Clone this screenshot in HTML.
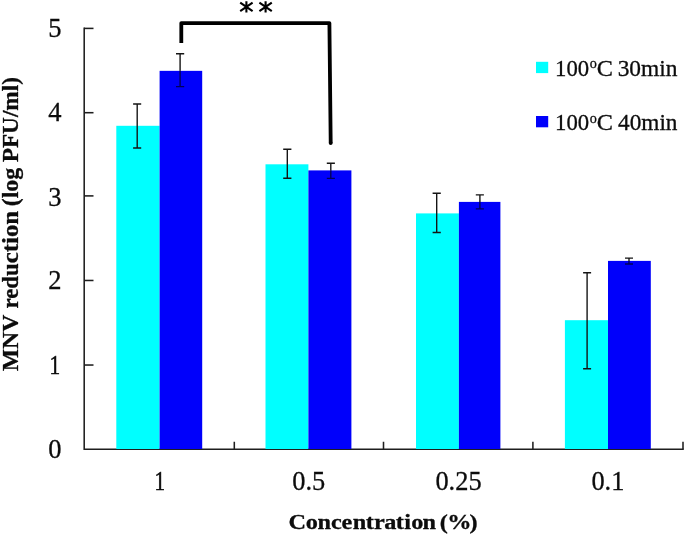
<!DOCTYPE html>
<html><head><meta charset="utf-8"><title>MNV reduction chart</title>
<style>html,body{margin:0;padding:0;background:#fff;width:685px;height:536px;overflow:hidden}body{position:relative;font-family:"Liberation Serif",serif}</style>
</head><body>
<svg width="685" height="536" viewBox="0 0 685 536" style="position:absolute;left:0;top:0;display:block;will-change:transform">
<rect x="0" y="0" width="685" height="536" fill="#ffffff"/>
<path d="M84.2 27.62V449.25H683.75" stroke="#1e1e1e" stroke-width="1.55" fill="none"/>
<path d="M84.2 365.03H93.5" stroke="#1e1e1e" stroke-width="1.55"/>
<path d="M84.2 280.47H93.5" stroke="#1e1e1e" stroke-width="1.55"/>
<path d="M84.2 195.90H93.5" stroke="#1e1e1e" stroke-width="1.55"/>
<path d="M84.2 112.70H93.5" stroke="#1e1e1e" stroke-width="1.55"/>
<path d="M84.2 28.40H93.5" stroke="#1e1e1e" stroke-width="1.55"/>
<path d="M234.30 449.25V441.75" stroke="#1e1e1e" stroke-width="1.55"/>
<path d="M383.50 449.25V441.75" stroke="#1e1e1e" stroke-width="1.55"/>
<path d="M532.90 449.25V441.75" stroke="#1e1e1e" stroke-width="1.55"/>
<path d="M683.00 449.25V441.75" stroke="#1e1e1e" stroke-width="1.55"/>
<rect x="116.3" y="125.8" width="43.30" height="323.20" fill="#00ffff"/>
<rect x="159.6" y="70.85" width="42.60" height="378.15" fill="#0000fb"/>
<rect x="265.5" y="164.3" width="42.90" height="284.70" fill="#00ffff"/>
<rect x="308.4" y="170.4" width="43.00" height="278.60" fill="#0000fb"/>
<rect x="416.0" y="213.4" width="42.90" height="235.60" fill="#00ffff"/>
<rect x="458.9" y="201.9" width="41.50" height="247.10" fill="#0000fb"/>
<rect x="564.9" y="320.2" width="43.10" height="128.80" fill="#00ffff"/>
<rect x="608.0" y="260.9" width="42.80" height="188.10" fill="#0000fb"/>
<path d="M137.2 104.0V148.0M133.1 104.0H141.2M133.1 148.0H141.2" stroke="#141414" stroke-width="1.38" fill="none"/>
<path d="M180.1 53.8V70.85M176.0 53.8H184.2" stroke="#141414" stroke-width="1.38" fill="none"/>
<path d="M180.1 70.85V86.6M176.0 86.6H184.2" stroke="#000058" stroke-width="1.38" fill="none"/>
<path d="M287.3 149.3V178.2M283.2 149.3H291.4M283.2 178.2H291.4" stroke="#141414" stroke-width="1.38" fill="none"/>
<path d="M330.8 163.2V170.4M326.8 163.2H334.9" stroke="#141414" stroke-width="1.38" fill="none"/>
<path d="M330.8 170.4V178.4M326.8 178.4H334.9" stroke="#000058" stroke-width="1.38" fill="none"/>
<path d="M436.7 193.3V232.5M432.6 193.3H440.8M432.6 232.5H440.8" stroke="#141414" stroke-width="1.38" fill="none"/>
<path d="M479.9 194.9V201.9M475.8 194.9H483.9" stroke="#141414" stroke-width="1.38" fill="none"/>
<path d="M479.9 201.9V208.9M475.8 208.9H483.9" stroke="#000058" stroke-width="1.38" fill="none"/>
<path d="M587.1 272.8V368.8M583.1 272.8H591.1M583.1 368.8H591.1" stroke="#141414" stroke-width="1.38" fill="none"/>
<path d="M629.0 258.1V260.9M625.0 258.1H633.0" stroke="#141414" stroke-width="1.38" fill="none"/>
<path d="M629.0 260.9V264.0M625.0 264.0H633.0" stroke="#000058" stroke-width="1.38" fill="none"/>
<path d="M181.3 42.9V23.1H329.4L330.7 143.2" stroke="#000" stroke-width="3.8" fill="none" stroke-linecap="butt" stroke-linejoin="round"/><circle cx="330.7" cy="143.1" r="1.9" fill="#000"/>
<path d="M246.4 1.2V12.6M240.2 2.6L252.6 11.2M240.2 11.2L252.6 2.6" stroke="#000" stroke-width="2.1" fill="none"/>
<path d="M265.6 1.2V12.6M259.4 2.6L271.8 11.2M259.4 11.2L271.8 2.6" stroke="#000" stroke-width="2.1" fill="none"/>
<rect x="536" y="61.8" width="12.2" height="11.3" fill="#00ffff"/>
<rect x="536" y="116" width="12.2" height="11.3" fill="#0000fb"/>
<text transform="translate(555.12 75.5) scale(0.9753 1)" style="font-family:'Liberation Serif',serif;fill:#0c0c0c;stroke:#0c0c0c;stroke-width:0.3px;font-size:23.3px;font-weight:normal">100</text>
<text transform="translate(589.76 68.2) scale(0.9773 1)" style="font-family:'Liberation Serif',serif;fill:#0c0c0c;stroke:#0c0c0c;stroke-width:0.3px;font-size:14.5px;font-weight:normal">o</text>
<text transform="translate(596.84 75.5) scale(1.0409 1)" style="font-family:'Liberation Serif',serif;fill:#0c0c0c;stroke:#0c0c0c;stroke-width:0.3px;font-size:23.3px;font-weight:normal">C</text>
<text transform="translate(617.65 75.5) scale(1.0051 1)" style="font-family:'Liberation Serif',serif;fill:#0c0c0c;stroke:#0c0c0c;stroke-width:0.3px;font-size:23.3px;font-weight:normal">30min</text>
<text transform="translate(555.12 129.8) scale(0.9753 1)" style="font-family:'Liberation Serif',serif;fill:#0c0c0c;stroke:#0c0c0c;stroke-width:0.3px;font-size:23.3px;font-weight:normal">100</text>
<text transform="translate(589.76 122.50000000000001) scale(0.9773 1)" style="font-family:'Liberation Serif',serif;fill:#0c0c0c;stroke:#0c0c0c;stroke-width:0.3px;font-size:14.5px;font-weight:normal">o</text>
<text transform="translate(596.84 129.8) scale(1.0409 1)" style="font-family:'Liberation Serif',serif;fill:#0c0c0c;stroke:#0c0c0c;stroke-width:0.3px;font-size:23.3px;font-weight:normal">C</text>
<text transform="translate(618.09 129.8) scale(0.9978 1)" style="font-family:'Liberation Serif',serif;fill:#0c0c0c;stroke:#0c0c0c;stroke-width:0.3px;font-size:23.3px;font-weight:normal">40min</text>
<text transform="translate(18.0 371.27) rotate(-90) scale(1.0314 1)" style="font-family:'Liberation Serif',serif;fill:#0c0c0c;stroke:#0c0c0c;stroke-width:0.3px;font-size:23px;font-weight:bold">MNV</text>
<text transform="translate(18.0 308.56) rotate(-90) scale(0.9921 1)" style="font-family:'Liberation Serif',serif;fill:#0c0c0c;stroke:#0c0c0c;stroke-width:0.3px;font-size:23px;font-weight:bold">redu</text>
<text transform="translate(18.0 263.28) rotate(-90) scale(1.0794 1)" style="font-family:'Liberation Serif',serif;fill:#0c0c0c;stroke:#0c0c0c;stroke-width:0.3px;font-size:23px;font-weight:bold">ction</text>
<text transform="translate(18.0 206.25) rotate(-90) scale(1.0377 1)" style="font-family:'Liberation Serif',serif;fill:#0c0c0c;stroke:#0c0c0c;stroke-width:0.3px;font-size:23px;font-weight:bold">(log</text>
<text transform="translate(18.0 162.26) rotate(-90) scale(1.0106 1)" style="font-family:'Liberation Serif',serif;fill:#0c0c0c;stroke:#0c0c0c;stroke-width:0.3px;font-size:23px;font-weight:bold">PFU/ml)</text>
<text transform="scale(1.125 1)" x="256.50 271.80 282.24 294.31 303.64 313.57 325.05 332.40 341.60 351.85 359.27 365.53 375.61 389.33 390.95 397.47 417.43" y="529.1" style="font-family:'Liberation Serif',serif;fill:#0c0c0c;stroke:#0c0c0c;stroke-width:0.3px;font-size:21.6px;font-weight:bold">Concentration (%)</text>
<text x="61.6" y="457.65" text-anchor="end" style="font-family:'Liberation Serif',serif;fill:#0c0c0c;stroke:#0c0c0c;stroke-width:0.3px;font-size:26.5px">0</text>
<text transform="translate(54.8 373.87) scale(0.8 1)" text-anchor="middle" style="font-family:'Liberation Serif',serif;fill:#0c0c0c;stroke:#0c0c0c;stroke-width:0.3px;font-size:26.6px;stroke-width:0.55px">1</text>
<text x="61.6" y="288.88" text-anchor="end" style="font-family:'Liberation Serif',serif;fill:#0c0c0c;stroke:#0c0c0c;stroke-width:0.3px;font-size:26.5px">2</text>
<text x="61.6" y="205.50" text-anchor="end" style="font-family:'Liberation Serif',serif;fill:#0c0c0c;stroke:#0c0c0c;stroke-width:0.3px;font-size:26.5px">3</text>
<text x="61.6" y="120.71" text-anchor="end" style="font-family:'Liberation Serif',serif;fill:#0c0c0c;stroke:#0c0c0c;stroke-width:0.3px;font-size:26.5px">4</text>
<text x="61.6" y="36.52" text-anchor="end" style="font-family:'Liberation Serif',serif;fill:#0c0c0c;stroke:#0c0c0c;stroke-width:0.3px;font-size:26.5px">5</text>
<text transform="translate(159.8 489.85) scale(0.8 1)" text-anchor="middle" style="font-family:'Liberation Serif',serif;fill:#0c0c0c;stroke:#0c0c0c;stroke-width:0.3px;font-size:26.4px;stroke-width:0.55px">1</text>
<text x="308.75" y="489.85" text-anchor="middle" style="font-family:'Liberation Serif',serif;fill:#0c0c0c;stroke:#0c0c0c;stroke-width:0.3px;font-size:26.4px">0.5</text>
<text x="458.50" y="489.85" text-anchor="middle" style="font-family:'Liberation Serif',serif;fill:#0c0c0c;stroke:#0c0c0c;stroke-width:0.3px;font-size:26.4px">0.25</text>
<text x="607.90" y="489.85" text-anchor="middle" style="font-family:'Liberation Serif',serif;fill:#0c0c0c;stroke:#0c0c0c;stroke-width:0.3px;font-size:26.4px">0.1</text>
</svg>
</body></html>
